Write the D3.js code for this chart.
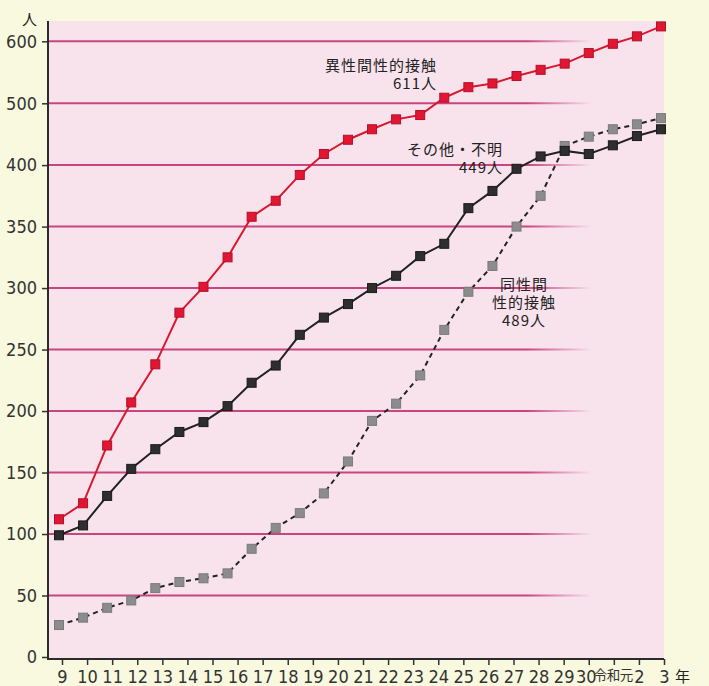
<!DOCTYPE html>
<html>
<head>
<meta charset="utf-8">
<script src="https://d3js.org/d3.v7.min.js"></script>
<style>
  body { margin: 0; background: #f8f9de; }
  svg { display: block; }
  .tick text { font-family: "Liberation Sans Narrow", "DejaVu Sans Condensed", sans-serif; font-size: 18px; fill: #333; }
  .note { font-family: "Noto Sans CJK JP", sans-serif; font-size: 15px; fill: #222; letter-spacing: 1px; }
</style>
</head>
<body>
<script>
// tick labels along the bottom (years)
var tickLabels = ["9", "10", "11", "12", "13", "14", "15", "16", "17", "18", "19", "20", "21", "22",
  "23", "24", "25", "26", "27", "28", "29", "30", "令和元", "2", "3"];
var yTicks = [0, 50, 100, 150, 200, 250, 300, 350, 400, 500, 600];

// series (26 markers each)
var heteroVals = [112, 125, 172, 207, 238, 280, 301, 325, 358, 371, 392, 418, 441, 458, 474, 481,
  509, 526, 532, 544, 554, 564, 581, 596, 608, 624];
var otherVals = [99, 107, 131, 153, 169, 183, 191, 204, 223, 237, 262, 276, 287, 300, 310, 326,
  336, 365, 379, 397, 414, 423, 418, 432, 447, 458];
var homoVals = [26, 32, 40, 46, 56, 61, 64, 68, 88, 105, 117, 133, 159, 192, 206, 229,
  266, 297, 318, 350, 375, 431, 446, 458, 466, 476];

var w = 709, h = 686;
var plotL = 48, plotB = 659, plotT = 21, plotR = 664;

var svg = d3.select("body").append("svg")
  .attr("width", w)
  .attr("height", h);

// plot background
svg.append("rect")
  .attr("x", plotL).attr("y", plotT)
  .attr("width", plotR - plotL).attr("height", plotB - plotT)
  .attr("fill", "#f8e3ed");

// y scale is broken above 400 (100 per gridline)
var y = d3.scaleLinear()
  .domain([0, 400, 500, 600])
  .range([657, 165.1, 103.3, 41.3]);

var xTick = d3.scalePoint().domain(tickLabels).range([62, 664]);
var xPt = d3.scalePoint().domain(d3.range(heteroVals.length)).range([59, 661]);

// gridlines fade out toward the right
var grad = svg.append("defs").append("linearGradient")
  .attr("id", "fade")
  .attr("gradientUnits", "userSpaceOnUse")
  .attr("x1", plotL).attr("x2", 592).attr("y1", 0).attr("y2", 0);
grad.append("stop").attr("offset", 0.88).attr("stop-color", "#c9457f").attr("stop-opacity", 1);
grad.append("stop").attr("offset", 1).attr("stop-color", "#c9457f").attr("stop-opacity", 0);

svg.selectAll("line.grid")
  .data(yTicks.filter(function(d) { return d > 0; }))
  .enter()
  .append("line")
  .attr("class", "grid")
  .attr("x1", plotL).attr("x2", 592)
  .attr("y1", function(d) { return y(d); })
  .attr("y2", function(d) { return y(d); })
  .attr("stroke", "url(#fade)")
  .attr("stroke-width", 2);

// axes
var yAxis = svg.append("g")
  .attr("transform", "translate(" + plotL + ",0)")
  .call(d3.axisLeft(y).tickValues(yTicks).tickSize(6).tickPadding(5));
yAxis.select(".domain").remove();
yAxis.selectAll(".tick line").attr("stroke", "#333").attr("stroke-width", 1.5);

svg.append("line")
  .attr("x1", plotL).attr("x2", plotL)
  .attr("y1", plotT).attr("y2", plotB + 1)
  .attr("stroke", "#2b2b2b").attr("stroke-width", 2);

var xAxis = svg.append("g")
  .attr("transform", "translate(0," + plotB + ")")
  .call(d3.axisBottom(xTick).tickSize(6).tickPadding(5));
xAxis.select(".domain").remove();
xAxis.selectAll(".tick line").attr("stroke", "#333").attr("stroke-width", 1.5);
xAxis.selectAll(".tick text")
  .attr("dx", function(d) { return d === "30" ? -3 : (d === "令和元" ? -1 : 0); })
  .style("font-family", function(d) { return d === "令和元" ? "'Noto Sans CJK JP', sans-serif" : null; })
  .style("font-size", function(d) { return d === "令和元" ? "13.5px" : null; })
  .style("letter-spacing", function(d) { return d === "令和元" ? "-0.5px" : null; });

svg.append("line")
  .attr("x1", plotL - 1).attr("x2", plotR)
  .attr("y1", plotB).attr("y2", plotB)
  .attr("stroke", "#2b2b2b").attr("stroke-width", 2);

svg.append("text").attr("class", "note")
  .attr("x", 30).attr("y", 25).attr("text-anchor", "middle")
  .text("人");
svg.append("text").attr("class", "note")
  .attr("x", 683).attr("y", 682).attr("text-anchor", "middle")
  .text("年");

// lines + markers
var line = d3.line()
  .x(function(d, i) { return xPt(i); })
  .y(function(d) { return y(d); });

var drawSeries = function(vals, stroke, dash, fill, edge) {
  svg.append("path")
    .datum(vals)
    .attr("d", line)
    .attr("fill", "none")
    .attr("stroke", stroke)
    .attr("stroke-width", 2)
    .attr("stroke-dasharray", dash);
  svg.selectAll(null)
    .data(vals)
    .enter()
    .append("rect")
    .attr("x", function(d, i) { return xPt(i) - 4.5; })
    .attr("y", function(d) { return y(d) - 4.5; })
    .attr("width", 9)
    .attr("height", 9)
    .attr("fill", fill)
    .attr("stroke", edge)
    .attr("stroke-width", 1);
};

drawSeries(homoVals, "#222", "5,4", "#8c8c8c", "#7a7a7a");
drawSeries(otherVals, "#222", null, "#2e2e2e", "#1a1a1a");
drawSeries(heteroVals, "#d9182f", null, "#e01632", "#b3102a");

// annotations
var addNote = function(lines, x, y0, anchor) {
  lines.forEach(function(t, k) {
    svg.append("text").attr("class", "note")
      .attr("x", x).attr("y", y0 + k * 18)
      .attr("text-anchor", anchor)
      .text(t);
  });
};
addNote(["異性間性的接触", "611人"], 437, 71, "end");
addNote(["その他・不明", "449人"], 503, 155, "end");
addNote(["同性間", "性的接触", "489人"], 524, 290, "middle");
</script>
</body>
</html>
